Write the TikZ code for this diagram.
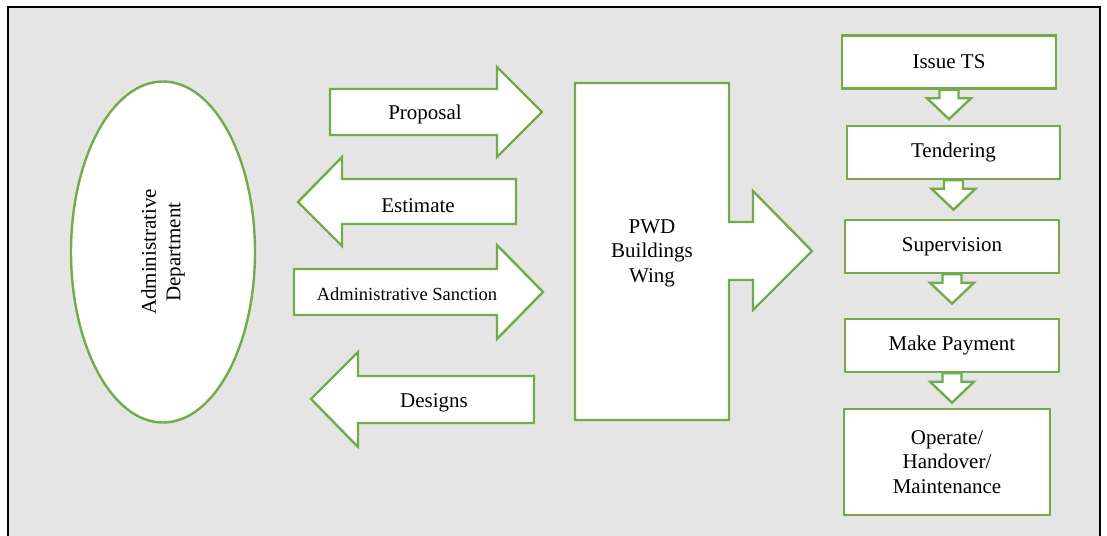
\documentclass[tikz,border=0pt]{standalone}
\usepackage{fontspec}
\setmainfont{Liberation Serif}
\usetikzlibrary{shapes.geometric,calc}
\tikzset{%
  blk/.style={draw=c0,fill=white,line width=2.4pt,line join=miter},
  lbl/.style={inner sep=0pt,font=\fontsize{21}{24.5}\selectfont,align=center},
  box/.style={blk,rectangle,inner sep=0pt,minimum width=#1,minimum height=53pt,
    font=\fontsize{21}{24.5}\selectfont,align=center},
  box/.default=214pt
}
\definecolor{c0}{RGB}{112,173,71}
\definecolor{bg}{RGB}{229,229,229}

\begin{document}
\begin{tikzpicture}[x=1pt,y=-1pt]
  \useasboundingbox (0,0) rectangle (1107,535);
  \fill[bg] (8,7) rectangle (1100,540);
  \draw[line width=2pt] (8,540) -- (8,7) -- (1100,7) -- (1100,540);
  %% left side
  \node[blk,ellipse,inner sep=0pt,minimum width=184pt,minimum height=341pt] (adm) at (163,252) {};
  \node[lbl,rotate=90] (admtxt) at (adm.center) {Administrative\\Department};
  %%% block arrows
  \draw[blk] (330,89) -- (497,89) -- (497,67) -- (542,112) -- (497,157) -- (497,135) -- (330,135) -- cycle;
  \node[lbl] (prop) at (425,114) {Proposal};
  \draw[blk] (516,179) -- (342,179) -- (342,157) -- (298,202) -- (342,246) -- (342,224) -- (516,224) -- cycle;
  \node[lbl] (est) at (418,206) {Estimate};
  \draw[blk] (294,269) -- (497,269) -- (497,245) -- (543,292) -- (497,339) -- (497,315) -- (294,315) -- cycle;
  \node[lbl,font=\fontsize{18.5}{22}\selectfont] (sanc) at (407,294) {Administrative Sanction};
  \draw[blk] (534,376) -- (358,376) -- (358,352) -- (311,399) -- (358,447) -- (358,423) -- (534,423) -- cycle;
  \node[lbl] (des) at (434,403) {Designs};
  %%% PWD
  \draw[blk] (575,83) -- (729,83) -- (729,222) -- (753,222) -- (753,191) -- (812,251) -- (753,310)
    -- (753,280) -- (729,280) -- (729,420) -- (575,420) -- cycle;
  \node[lbl] (pwd) at (652,253) {PWD\\Buildings\\Wing};
  %%% right side
  \node[box] (ts) at (949,62) {Issue TS};
  \node[box=213pt] (tend) at (953.5,152.5) {Tendering};
  \node[box] (sup) at (952,246.5) {Supervision};
  \node[box] (pay) at (952,345.5) {Make Payment};
  \node[box=206pt,minimum height=106pt] (op) at (947,462) {Operate/\\Handover/\\Maintenance};
  \foreach \a in {ts,tend,sup,pay}
    \draw[blk] ($(\a.south)+(-9.5,0)$) -- ++(0,8.5) -- ++(-12.5,0) -- ($(\a.south)+(0,29.5)$)
      -- ($(\a.south)+(22,8.5)$) -- ++(-12.5,0) -- ($(\a.south)+(9.5,0)$) -- cycle;
\end{tikzpicture}
\end{document}
